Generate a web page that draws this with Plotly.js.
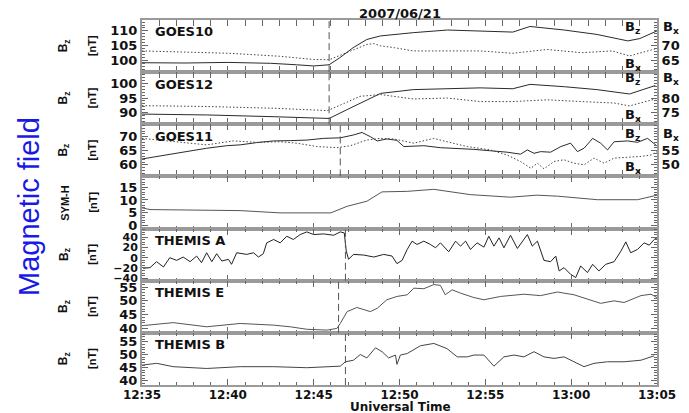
<!DOCTYPE html>
<html>
<head>
<meta charset="utf-8">
<script src="https://cdn.plot.ly/plotly-3.0.1.min.js"></script>
<style>
  html, body { margin: 0; padding: 0; background: #fff; }
  #chart { width: 689px; height: 413px; }
</style>
</head>
<body>
<div id="chart"></div>
<script>
// ---- data (time in minutes after 12:35 UT, 2007/06/21) ----
const goes10BzT = [0, 2.5, 5, 7.5, 9, 10, 10.9, 11.5, 12.3, 13.1, 13.9, 15.8, 17.8, 19.7, 21.6, 22.6, 24.6, 26.5, 28.3, 29.0, 30];
const goes10Bz  = [99.2, 99.1, 99.3, 99.0, 98.5, 98.1, 98.5, 100.8, 104.3, 107.1, 108.3, 109.4, 110.3, 110.0, 109.6, 111.5, 110.3, 108.8, 106.6, 107.4, 110.0];
const goes10BxT = [0, 5.1, 8.0, 10.0, 10.9, 11.9, 13.1, 13.5, 13.9, 14.7, 15.8, 17.8, 19.7, 21.6, 23.6, 25.6, 27.4, 28.4, 29.9];
const goes10Bx  = [68.2, 67.4, 66.4, 65.3, 65.2, 67.6, 70.4, 70.7, 69.9, 69.3, 68.2, 68.2, 68.2, 67.4, 68.7, 67.6, 68.2, 66.5, 68.9];

const goes12BzT = [0, 3.8, 7.7, 10.8, 10.9, 11.9, 13.1, 13.9, 15.8, 17.8, 19.7, 21.6, 22.6, 24.6, 26.5, 28.4, 29.9];
const goes12Bz  = [89.5, 89.2, 88.6, 88.0, 88.0, 90.9, 94.4, 96.6, 97.9, 98.1, 98.5, 98.2, 99.7, 98.9, 97.9, 96.4, 99.3];
const goes12BxT = [0, 3.8, 7.7, 10.8, 11.6, 12.7, 13.9, 15.8, 17.8, 18.2, 19.7, 21.6, 23.6, 25.6, 27.5, 28.4, 29.9];
const goes12Bx  = [77.4, 77.1, 76.5, 75.7, 77.7, 80.6, 81.2, 79.7, 80.0, 79.8, 78.8, 78.8, 79.4, 78.8, 78.3, 77.3, 79.7];

const goes11BzT = [0, 0.86, 1.83, 2.8, 3.77, 4.94, 5.72, 6.69, 7.67, 8.64, 9.61, 10.58, 11.56, 12.33, 12.82, 13.31, 13.7, 14.28, 14.86, 15.25, 16.42, 17.39, 18.37, 19.34, 20.31, 21.28, 22.06, 22.45, 22.84, 23.23, 23.81, 24.4, 24.98, 25.37, 25.76, 26.25, 26.73, 27.12, 27.51, 28.29, 28.87, 29.46, 30];
const goes11Bz  = [62.1, 63.0, 63.8, 65.0, 65.9, 66.8, 67.1, 67.9, 68.5, 68.6, 68.8, 69.4, 69.6, 70.6, 71.5, 70.0, 68.5, 69.2, 68.7, 66.5, 66.8, 66.1, 65.9, 65.5, 65.0, 64.5, 63.8, 65.3, 64.1, 64.7, 64.5, 66.5, 67.7, 64.7, 65.9, 69.4, 67.7, 65.3, 68.2, 68.5, 68.0, 69.4, 66.7];
const goes11BxT = [0, 1.83, 3.77, 5.33, 6.69, 8.05, 9.03, 10.19, 11.36, 12.14, 13.11, 13.89, 14.67, 15.84, 17.0, 17.78, 18.95, 20.31, 21.28, 22.06, 22.65, 23.04, 23.42, 24.01, 24.59, 25.18, 25.76, 26.34, 26.93, 27.51, 28.29, 29.07, 29.65, 30];
const goes11Bx  = [59.4, 58.2, 57.1, 58.5, 58.0, 58.2, 57.7, 56.5, 56.1, 56.8, 58.8, 59.4, 59.2, 57.7, 59.4, 58.2, 56.5, 55.3, 53.5, 51.2, 48.8, 50.6, 48.6, 51.2, 51.8, 50.6, 50.0, 52.4, 50.6, 52.4, 52.6, 53.0, 53.5, 54.7];

const symhT = [0, 0.47, 5.72, 8.05, 11.0, 11.95, 13.11, 13.99, 15.45, 17.0, 19.14, 21.48, 23.0, 24.2, 26.54, 28.87, 30];
const symh  = [6.9, 6.2, 5.8, 4.9, 4.9, 7.5, 9.5, 13.2, 13.4, 14.2, 12.1, 11.1, 11.9, 11.5, 10.1, 10.1, 11.9];

const thaT = [0.08, 0.47, 0.86, 1.25, 1.63, 2.02, 2.41, 2.8, 3.19, 3.48, 3.77, 4.07, 4.36, 4.65, 5.04, 5.23, 5.53, 6.11, 6.5, 6.79, 7.08, 7.28, 7.67, 8.05, 8.44, 8.83, 9.22, 9.61, 10.0, 10.58, 11.17, 11.56, 11.79, 11.91, 12.04, 12.33, 12.92, 13.5, 14.09, 14.57, 14.86, 15.16, 15.45, 15.74, 16.03, 16.42, 16.81, 17.1, 17.39, 17.88, 18.27, 18.56, 18.85, 19.14, 19.53, 19.92, 20.21, 20.51, 20.8, 21.09, 21.48, 21.87, 22.45, 22.74, 23.04, 23.42, 23.81, 24.11, 24.3, 24.59, 24.98, 25.27, 25.56, 25.95, 26.25, 26.63, 27.02, 27.51, 27.9, 28.19, 28.48, 28.87, 29.26, 29.55, 29.84, 30];
const tha  = [-20.7, -19.4, -7.8, -18.1, 0, -5.2, 1.3, -7.8, 3.2, -9.7, 9.7, -7.8, 7.8, -6.5, -3.2, -12.9, 9.7, 6.5, 9.7, 1.3, 7.8, 29.1, 35.6, 29.1, 42, 35.6, 45.3, 50.5, 45.3, 46.6, 44, 50.5, 48.5, 12.9, -3.2, 6.5, 5.2, 1.3, 6.5, 3.2, -11.6, -5.2, 16.2, 32.4, 25.9, 32.4, 25.9, 19.4, 29.1, 11.6, 32.4, 22.6, 32.4, 16.2, 29.1, 20.7, 42, 22.6, 38.8, 19.4, 44, 18.1, 45.3, 22.6, 32.4, -5.2, -7.8, 3.2, -25.9, -19.4, -32.4, -38.8, -16.2, -29.1, -12.9, -25.9, -12.9, -7.8, 12.9, 31, 9.7, 16.2, 29.1, 24.6, 35.6, 38.8];

const theT = [0, 1.83, 3.77, 5.72, 7.67, 8.64, 9.61, 10.78, 11.36, 11.56, 11.95, 12.53, 13.31, 13.7, 14.28, 14.86, 15.45, 15.84, 16.42, 17.0, 17.39, 17.68, 18.07, 18.56, 19.34, 19.92, 20.89, 22.26, 23.23, 24.2, 25.18, 26.15, 26.73, 27.51, 28.09, 29.07, 29.65, 30];
const the  = [41, 42.1, 40.6, 41.8, 41.2, 40.6, 39.7, 39.4, 40, 41.8, 46.1, 47.6, 46.1, 47.3, 50.4, 51.6, 52.2, 54.6, 54.4, 55.9, 55.6, 52.2, 54, 52.8, 51.2, 50.4, 51.6, 52.4, 51.9, 53.2, 52.2, 50.4, 49.1, 50, 49.4, 51.9, 52.4, 51.2];

const thbT = [0, 0.86, 1.83, 3.77, 5.72, 7.67, 9.61, 11.56, 11.85, 12.33, 12.72, 13.11, 13.6, 13.99, 14.38, 14.77, 14.86, 15.06, 15.45, 16.23, 17.0, 17.78, 18.37, 18.95, 19.34, 19.92, 20.51, 21.09, 21.67, 22.26, 22.84, 23.42, 24.01, 24.59, 25.18, 25.76, 26.34, 27.12, 28.09, 29.07, 29.84];
const thb  = [46, 46.7, 45.4, 44.7, 45.4, 45.4, 45, 45.6, 47.3, 47.9, 50.1, 48.8, 52.7, 51.2, 48.8, 49.9, 46.3, 49.9, 50.5, 53.5, 54.4, 52.4, 49.2, 49.2, 49.9, 49.9, 45.6, 49.2, 49.9, 49.2, 51.2, 49.2, 48.6, 49.2, 47.3, 45.4, 46.7, 47.3, 47.3, 47.9, 49.6];

// onset (dashed line) times per panel
const onsetGoes1012 = 10.9;
const onsetGoes11 = 11.55;
const onsetThA = 11.85;
const onsetThE = 11.45;
const onsetThB = 11.85;

const panelNames = ['GOES10', 'GOES12', 'GOES11', '', 'THEMIS A', 'THEMIS E', 'THEMIS B'];

// ---- helpers ----
const t0ms = Date.UTC(2007, 5, 21, 12, 35, 0);
const toTime = m => new Date(t0ms + m * 60000).toISOString().slice(0, 19).replace('T', ' ');
const T = arr => arr.map(toTime);

const FONT = 'DejaVu Sans, Liberation Sans, Arial, sans-serif';
const FONT2 = 'Liberation Sans, Arial, sans-serif';
const FRAME = '#9a9a9a';
const TICKC = '#666';

const solid = (xs, ys, xa, ya, color) => ({
  x: T(xs), y: ys, xaxis: xa, yaxis: ya, type: 'scatter', mode: 'lines',
  line: { color: color || '#2a2a2a', width: 1 }, hoverinfo: 'skip', showlegend: false
});
const dotted = (xs, ys, xa, ya) => ({
  x: T(xs), y: ys, xaxis: xa, yaxis: ya, type: 'scatter', mode: 'lines',
  line: { color: '#444', width: 1, dash: '1.5px,2px' }, hoverinfo: 'skip', showlegend: false
});

const data = [
  solid(goes10BzT, goes10Bz, 'x', 'y'),
  dotted(goes10BxT, goes10Bx, 'x', 'y2'),
  solid(goes12BzT, goes12Bz, 'x2', 'y3'),
  dotted(goes12BxT, goes12Bx, 'x2', 'y4'),
  solid(goes11BzT, goes11Bz, 'x3', 'y5'),
  dotted(goes11BxT, goes11Bx, 'x3', 'y6'),
  solid(symhT, symh, 'x4', 'y7', '#555'),
  solid(thaT, tha, 'x5', 'y8', '#222'),
  solid(theT, the, 'x6', 'y9', '#555'),
  solid(thbT, thb, 'x7', 'y10', '#444')
];

const N = 7;
const dom = i => [1 - (i + 1) / N, 1 - i / N];
const tickfont = { family: FONT, size: 13, color: '#111', weight: 'bold' };
const tickfontX = { family: FONT, size: 12, color: '#111', weight: 'bold' };
const tickfontSmall = { family: FONT, size: 11, color: '#111', weight: 'bold' };

const xAxis = (anchor, last) => ({
  type: 'date', range: [toTime(0), toTime(30)], tick0: toTime(0), dtick: 300000,
  tickformat: '%H:%M', ticks: 'inside', ticklen: 6, tickwidth: 1, tickcolor: TICKC,
  minor: { dtick: 60000, ticks: 'inside', ticklen: 3, tickwidth: 1, tickcolor: TICKC },
  showline: true, linecolor: FRAME, linewidth: 2, mirror: 'allticks',
  showgrid: false, zeroline: false, showticklabels: !!last, tickfont: tickfontX,
  ticklabelstandoff: -2,
  anchor: anchor, domain: [0, 1], fixedrange: true
});
const yLeft = (i, range, dtick, minorD, mirror, tf) => ({
  domain: dom(i), range: range, tick0: 0, dtick: dtick,
  ticks: 'inside', ticklen: 6, tickwidth: 1, tickcolor: TICKC,
  minor: { dtick: minorD, tick0: 0, ticks: 'inside', ticklen: 3, tickwidth: 1, tickcolor: TICKC },
  showline: true, linecolor: FRAME, linewidth: 2, mirror: mirror,
  showgrid: false, zeroline: false, tickfont: tf || tickfont, fixedrange: true
});
const yRight = (over, anchor, range, vals) => ({
  overlaying: over, side: 'right', anchor: anchor, range: range,
  tickmode: 'array', tickvals: vals,
  ticks: 'inside', ticklen: 6, tickwidth: 1, tickcolor: TICKC,
  minor: { tickmode: 'linear', tick0: 0, dtick: 1, ticks: 'inside', ticklen: 3, tickwidth: 1, tickcolor: TICKC },
  showline: true, linecolor: FRAME, linewidth: 2,
  showgrid: false, zeroline: false, tickfont: tickfont, fixedrange: true
});

const layout = {
  width: 689, height: 413,
  margin: { l: 142, r: 32, t: 20, b: 28 },
  paper_bgcolor: '#fff', plot_bgcolor: '#fff',
  showlegend: false,
  title: { text: '2007/06/21', x: 0.501, xref: 'paper', xanchor: 'center', y: 1 - 13 / 413, yref: 'container', yanchor: 'middle',
           font: { family: FONT, size: 13, color: '#111', weight: 'bold' } },
  xaxis: xAxis('y'), xaxis2: xAxis('y3'), xaxis3: xAxis('y5'), xaxis4: xAxis('y7'),
  xaxis5: xAxis('y8'), xaxis6: xAxis('y9'), xaxis7: xAxis('y10', true),
  yaxis: yLeft(0, [96, 113.7], 5, 1, false),
  yaxis2: yRight('y', 'x', [61, 78.7], [65, 70]),
  yaxis3: yLeft(1, [86, 103.9], 5, 1, false),
  yaxis4: yRight('y3', 'x2', [71, 88.9], [75, 80]),
  yaxis5: yLeft(2, [55.9, 74.4], 5, 1, false),
  yaxis6: yRight('y5', 'x3', [45.9, 64.4], [50, 55]),
  yaxis7: yLeft(3, [-1.3, 19.3], 5, 1, 'allticks'),
  yaxis8: yLeft(4, [-45, 57], 20, 5, 'allticks', tickfontSmall),
  yaxis9: yLeft(5, [38.4, 57.3], 5, 1, 'allticks'),
  yaxis10: yLeft(6, [38.3, 58.5], 5, 1, 'allticks'),
  shapes: [],
  annotations: []
};

const dashLine = (t, xa, ya) => ({
  type: 'line', xref: xa, yref: ya + ' domain', x0: toTime(t), x1: toTime(t), y0: 0, y1: 1,
  line: { color: '#555', width: 1, dash: '7px,4px' }
});
layout.shapes.push(
  dashLine(onsetGoes1012, 'x', 'y'), dashLine(onsetGoes1012, 'x2', 'y3'),
  dashLine(onsetGoes11, 'x3', 'y5'), dashLine(onsetThA, 'x5', 'y8'),
  dashLine(onsetThE, 'x6', 'y9'), dashLine(onsetThB, 'x7', 'y10')
);

const leftY = ['y', 'y3', 'y5', 'y7', 'y8', 'y9', 'y10'];
const ann = layout.annotations;
const lblFont = { family: FONT, size: 13, color: '#111', weight: 'bold' };
panelNames.forEach((name, i) => {
  if (name) ann.push({ text: name, xref: 'paper', x: 0.021, xanchor: 'left', yref: leftY[i] + ' domain', y: 0.77, yanchor: 'middle', showarrow: false, font: lblFont });
});
// rotated left labels
const rotFontB = { family: FONT2, size: 12, color: '#111', weight: 'bold' };
const rotFont = { family: FONT2, size: 11, color: '#111', weight: 'bold' };
leftY.forEach((ya, i) => {
  ann.push({ text: i === 3 ? 'SYM-H' : 'B<sub>z</sub>', textangle: -90, xref: 'paper', x: -0.151, xanchor: 'center', yref: ya + ' domain', y: 0.5, yanchor: 'middle', showarrow: false, font: i === 3 ? rotFont : rotFontB });
  ann.push({ text: '[nT]', textangle: -90, xref: 'paper', x: -0.097, xanchor: 'center', yref: ya + ' domain', y: 0.5, yanchor: 'middle', showarrow: false, font: rotFont });
});
// right-side B labels for GOES panels
const bFont = { family: FONT, size: 13, color: '#111', weight: 'bold' };
[['y', 0.85, 0.14], ['y3', 0.87, 0.16], ['y5', 0.8, 0.17]].forEach(([ya, yz, yx]) => {
  ann.push({ text: 'B<sub>z</sub>', xref: 'paper', x: 0.953, xanchor: 'center', yref: ya + ' domain', y: yz, yanchor: 'middle', showarrow: false, font: bFont });
  ann.push({ text: 'B<sub>x</sub>', xref: 'paper', x: 0.953, xanchor: 'center', yref: ya + ' domain', y: yx, yanchor: 'middle', showarrow: false, font: bFont });
  ann.push({ text: 'B<sub>x</sub>', xref: 'paper', x: 1.027, xanchor: 'center', yref: ya + ' domain', y: yz, yanchor: 'middle', showarrow: false, font: bFont });
});
ann.push({ text: 'Universal Time', xref: 'paper', x: 0.501, xanchor: 'center', yref: 'paper', y: -21.5 / 365, yanchor: 'middle', showarrow: false, font: { family: FONT, size: 12, color: '#111', weight: 'bold' } });
ann.push({ text: 'Magnetic field', textangle: -90, xref: 'paper', x: -113 / 515, xanchor: 'center', yref: 'paper', y: (385 - 207) / 365, yanchor: 'middle', showarrow: false, font: { family: FONT2, size: 29, color: '#1a1ae6' } });

Plotly.newPlot('chart', data, layout, { staticPlot: true, displayModeBar: false });
</script>
</body>
</html>
